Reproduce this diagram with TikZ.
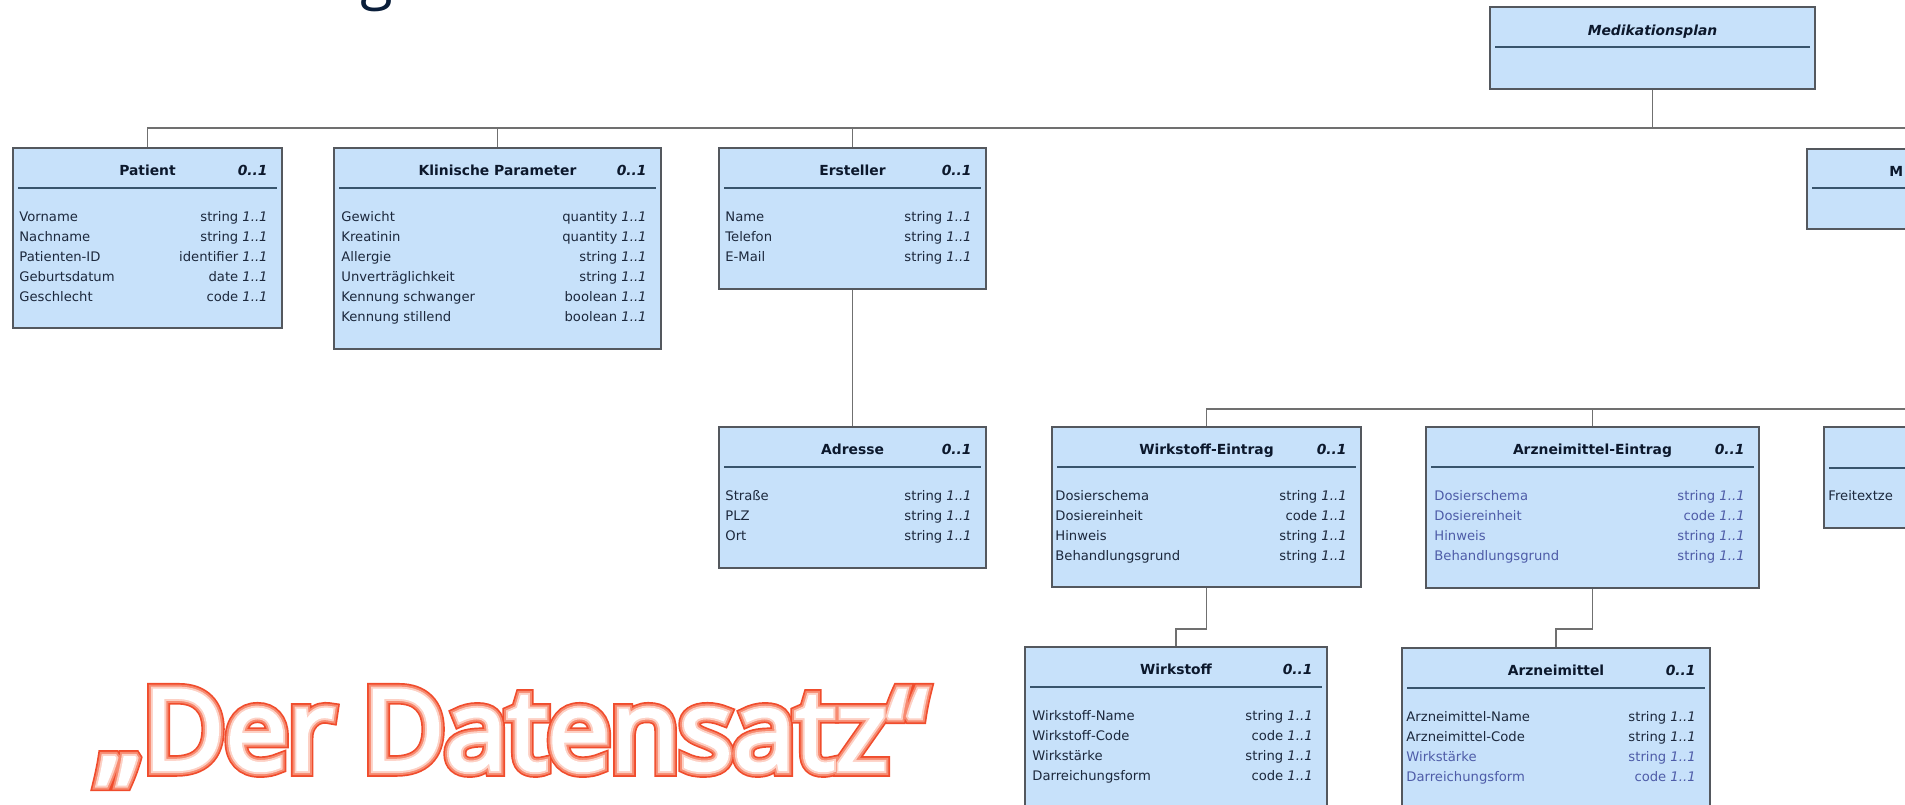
\documentclass[tikz,border=0pt]{standalone}
\usepackage{fontspec}
\setmainfont{DejaVu Sans}
\newfontfamily\headfont{Open Sans}
\newfontfamily\bannerouter{Open Sans}[FakeBold=12]
\newfontfamily\bannermiddle{Open Sans}[FakeBold=9]
\newfontfamily\bannerinner{Open Sans}[FakeBold=5.5]
\newfontfamily\bannercore{Open Sans}[FakeBold=2]
\usetikzlibrary{fit,calc}

\definecolor{boxfill}{RGB}{199,225,250}
\definecolor{boxline}{RGB}{84,88,94}
\definecolor{rulecol}{RGB}{56,84,108}
\definecolor{linkcol}{RGB}{112,112,112}
\definecolor{inktxt}{RGB}{28,40,60}
\definecolor{inherit}{RGB}{78,92,168}
\definecolor{headink}{RGB}{12,24,44}
\definecolor{titleink}{RGB}{10,30,58}
\definecolor{bannerred}{RGB}{240,76,44}
\definecolor{bannermid}{RGB}{247,138,112}
\definecolor{bannerpale}{RGB}{253,208,196}

% one class box: name, left, top, right, bottom, title, multiplicity
\newcommand\umlclass[7]{%
  \node[classrect, fit={(#2,#3) (#4,#5)}] (#1) {};
  \draw[headrule] ($(#1.north west)+(6,41)$) -- ($(#1.north east)+(-6,41)$);
  \node[classtitle] (#1-title) at ($(#1.north)+(0,28.5)$) {#6};
  \node[multtxt] (#1-mult) at ($(#1.north east)+(-15,28.5)$) {#7};
}
% one attribute row: box, row, left inset, name, type, colour
\newcommand\umlattr[6]{%
  \node[attrtxt, text=#6] (#1-n#2) at ($(#1.north west)+(#3,{74.5+20*#2})$) {#4};
  \node[typetxt, text=#6] (#1-t#2) at ($(#1.north east)+(-15,{74.5+20*#2})$) {#5 \textit{1..1}};
}

\begin{document}
\begin{tikzpicture}[x=0.02cm, y=-0.02cm,
  classrect/.style={rectangle, draw=boxline, fill=boxfill, line width=1.1pt, inner sep=0pt},
  headrule/.style={draw=rulecol, line width=1.3pt},
  classtitle/.style={anchor=base, inner sep=0pt, text=headink, font=\fontsize{7.9}{10}\selectfont\bfseries},
  multtxt/.style={anchor=base east, inner sep=0pt, text=headink, font=\fontsize{7.9}{10}\selectfont\bfseries\itshape},
  attrtxt/.style={anchor=base west, inner sep=0pt, font=\fontsize{7.5}{9}\selectfont},
  typetxt/.style={anchor=base east, inner sep=0pt, font=\fontsize{7.5}{9}\selectfont},
  link/.style={draw=linkcol, line width=1.1pt},
  bannertxt/.style={anchor=base west, inner sep=0pt}]

\path[use as bounding box, fill=white] (0,0) rectangle (1905,804);
\clip (0,0) rectangle (1905,804);

% tail of the slide heading
\node[anchor=base, inner sep=0pt, text=titleink] (headg) at (377,-2)
  {\headfont\fontsize{34}{34}\selectfont g};

% root class
\node[classrect, fit={(1490,7) (1815,89)}] (med) {};
\draw[headrule] ($(med.north west)+(6,41)$) -- ($(med.north east)+(-6,41)$);
\node[classtitle, font=\fontsize{7.9}{10}\selectfont\bfseries\itshape] (med-title)
  at ($(med.north)+(0,29)$) {Medikationsplan};

% first level
\umlclass{patient}{13}{148}{282}{328}{Patient}{0..1}
\umlattr{patient}{0}{7}{Vorname}{string}{inktxt}
\umlattr{patient}{1}{7}{Nachname}{string}{inktxt}
\umlattr{patient}{2}{7}{Patienten-ID}{identifier}{inktxt}
\umlattr{patient}{3}{7}{Geburtsdatum}{date}{inktxt}
\umlattr{patient}{4}{7}{Geschlecht}{code}{inktxt}

\umlclass{klin}{334}{148}{661}{349}{Klinische Parameter}{0..1}
\umlattr{klin}{0}{8}{Gewicht}{quantity}{inktxt}
\umlattr{klin}{1}{8}{Kreatinin}{quantity}{inktxt}
\umlattr{klin}{2}{8}{Allergie}{string}{inktxt}
\umlattr{klin}{3}{8}{Unverträglichkeit}{string}{inktxt}
\umlattr{klin}{4}{8}{Kennung schwanger}{boolean}{inktxt}
\umlattr{klin}{5}{8}{Kennung stillend}{boolean}{inktxt}

\umlclass{erst}{719}{148}{986}{289}{Ersteller}{0..1}
\umlattr{erst}{0}{7}{Name}{string}{inktxt}
\umlattr{erst}{1}{7}{Telefon}{string}{inktxt}
\umlattr{erst}{2}{7}{E-Mail}{string}{inktxt}

% class continuing past the right edge
\node[classrect, fit={(1807,149) (1960,229)}] (mbox) {};
\draw[headrule] ($(mbox.north west)+(6,40)$) -- ($(mbox.north east)+(-6,40)$);
\node[anchor=base west, inner sep=0pt, text=headink, font=\fontsize{7.9}{10}\selectfont\bfseries]
  (mbox-title) at (1889,176) {M};

% second level
\umlclass{adr}{719}{427}{986}{568}{Adresse}{0..1}
\umlattr{adr}{0}{7}{Straße}{string}{inktxt}
\umlattr{adr}{1}{7}{PLZ}{string}{inktxt}
\umlattr{adr}{2}{7}{Ort}{string}{inktxt}

\umlclass{wein}{1052}{427}{1361}{587}{Wirkstoff-Eintrag}{0..1}
\umlattr{wein}{0}{4}{Dosierschema}{string}{inktxt}
\umlattr{wein}{1}{4}{Dosiereinheit}{code}{inktxt}
\umlattr{wein}{2}{4}{Hinweis}{string}{inktxt}
\umlattr{wein}{3}{4}{Behandlungsgrund}{string}{inktxt}

\umlclass{aein}{1426}{427}{1759}{588}{Arzneimittel-Eintrag}{0..1}
\umlattr{aein}{0}{9}{Dosierschema}{string}{inherit}
\umlattr{aein}{1}{9}{Dosiereinheit}{code}{inherit}
\umlattr{aein}{2}{9}{Hinweis}{string}{inherit}
\umlattr{aein}{3}{9}{Behandlungsgrund}{string}{inherit}

\node[classrect, fit={(1824,427) (1960,528)}] (frei) {};
\draw[headrule] ($(frei.north west)+(6,42)$) -- ($(frei.north east)+(-6,42)$);
\node[attrtxt, text=inktxt] (frei-n0) at ($(frei.north west)+(5,74.5)$) {Freitextze};

% third level
\umlclass{wst}{1025}{647}{1327}{840}{Wirkstoff}{0..1}
\umlattr{wst}{0}{8}{Wirkstoff-Name}{string}{inktxt}
\umlattr{wst}{1}{8}{Wirkstoff-Code}{code}{inktxt}
\umlattr{wst}{2}{8}{Wirkstärke}{string}{inktxt}
\umlattr{wst}{3}{8}{Darreichungsform}{code}{inktxt}

\umlclass{arz}{1402}{648}{1710}{840}{Arzneimittel}{0..1}
\umlattr{arz}{0}{5}{Arzneimittel-Name}{string}{inktxt}
\umlattr{arz}{1}{5}{Arzneimittel-Code}{string}{inktxt}
\umlattr{arz}{2}{5}{Wirkstärke}{string}{inherit}
\umlattr{arz}{3}{5}{Darreichungsform}{code}{inherit}

% connectors
\coordinate (topbusR) at (1915,128);
\coordinate (lowbusR) at (1915,409);
\draw[link] (med.south) -- (med.south |- topbusR);
\draw[link] (patient.north) -- (patient.north |- topbusR) -- (topbusR);
\draw[link] (klin.north) -- (klin.north |- topbusR);
\draw[link] (erst.north) -- (erst.north |- topbusR);
\draw[link] (erst.south) -- (adr.north);
\draw[link] (wein.north) -- (wein.north |- lowbusR) -- (lowbusR);
\draw[link] (aein.north) -- (aein.north |- lowbusR);
\draw[link] (wein.south) -- ++(0,41) -| (wst.north);
\draw[link] (aein.south) -- ++(0,40) -| (arz.north);

% banner lettering, built up from the red rim to the white core
\node[bannertxt, text=bannerred] (banner-rim) at (97,770)
  {\bannerouter\fontsize{64}{70}\selectfont „Der Datensatz“};
\node[bannertxt, text=bannermid] (banner-glow) at (97,770)
  {\bannermiddle\fontsize{64}{70}\selectfont „Der Datensatz“};
\node[bannertxt, text=bannerpale] (banner-haze) at (97,770)
  {\bannerinner\fontsize{64}{70}\selectfont „Der Datensatz“};
\node[bannertxt, text=white] (banner) at (97,770)
  {\bannercore\fontsize{64}{70}\selectfont „Der Datensatz“};
\end{tikzpicture}
\end{document}
